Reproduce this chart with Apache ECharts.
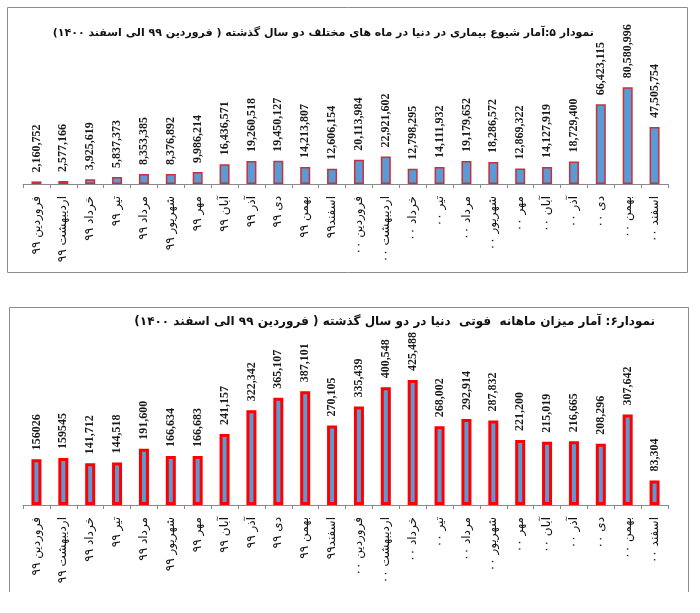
<!DOCTYPE html>
<html>
<head>
<meta charset="utf-8">
<script src="https://cdn.jsdelivr.net/npm/echarts@6/dist/echarts.min.js"></script>
<style>
html,body{margin:0;padding:0;background:#fff;}
#c{width:700px;height:613px;}
</style>
</head>
<body>
<div id="c"></div>
<script>
const categories = [
  "فروردین ۹۹","اردیبهشت ۹۹","خرداد ۹۹","تیر ۹۹","مرداد ۹۹","شهریور ۹۹","مهر ۹۹","آبان ۹۹","آذر ۹۹","دی ۹۹","بهمن ۹۹","اسفند۹۹",
  "فروردین ۰۰","اردیبهشت ۰۰","خرداد ۰۰","تیر ۰۰","مرداد ۰۰","شهریور ۰۰","مهر ۰۰","آبان ۰۰","آذر ۰۰","دی ۰۰","بهمن ۰۰","اسفند ۰۰"
];
const cases = [2160752,2577166,3925619,5837373,8353385,8376892,9986214,16436571,19260518,19450127,14213807,12606154,
  20113984,22921602,12798295,14111932,19179652,18286572,12869322,14127919,18729400,66423115,80580996,47505754];
const deaths = [156026,159545,141712,144518,191600,166634,166683,241157,322342,365107,387101,270105,
  335439,400548,425488,268002,292914,287832,221200,215019,216665,208296,307642,83304];
const deathLabels = ["156026","159545","141,712","144,518","191,600","166,634","166,683","241,157","322,342","365,107","387,101","270,105",
  "335,439","400,548","425,488","268,002","292,914","287,832","221,200","215,019","216,665","208,296","307,642","83,304"];
const title1 = "نمودار ۵:آمار شیوع بیماری در دنیا در ماه های مختلف دو سال گذشته ( فروردین ۹۹ الی اسفند ۱۴۰۰)";
const title2 = "نمودار۶: آمار میزان ماهانه  فوتی  دنیا در دو سال گذشته ( فروردین ۹۹ الی اسفند ۱۴۰۰)";

const RLE = "\u202B", PDF = "\u202C";
const chart = echarts.init(document.getElementById('c'), null, {renderer:'canvas'});
const xAxisCommon = {
  type:'category', data:categories.map(s=>RLE+s+PDF),
  axisLine:{lineStyle:{color:'#8a8a8a',width:1}},
  axisTick:{show:true,length:4,lineStyle:{color:'#8a8a8a'}},
  axisLabel:{rotate:90,interval:0,margin:12,fontSize:12,color:'#111',fontFamily:'DejaVu Sans'}
};
chart.setOption({
  animation:false,
  grid:[
    {left:23,right:32,top:64,bottom:429},
    {left:23,right:32,top:358,bottom:108}
  ],
  xAxis:[
    Object.assign({gridIndex:0},xAxisCommon),
    Object.assign({gridIndex:1},xAxisCommon)
  ],
  yAxis:[
    {gridIndex:0,type:'value',min:0,max:100000000,show:false,splitLine:{show:false}},
    {gridIndex:1,type:'value',min:0,max:500000,show:false,splitLine:{show:false}}
  ],
  series:[
    {type:'bar',xAxisIndex:0,yAxisIndex:0,data:cases,barWidth:10,
      itemStyle:{color:'#5b9bd5',borderColor:'#c8303c',borderWidth:1.5},
      label:{show:true,position:'top',rotate:90,align:'left',verticalAlign:'middle',distance:9,
        fontFamily:'Liberation Serif',fontWeight:'bold',fontSize:12,color:'#1a1a1a',
        formatter:p=>p.value.toLocaleString('en-US')}},
    {type:'bar',xAxisIndex:1,yAxisIndex:1,data:deaths,barWidth:10,
      itemStyle:{color:'#5b9bd5',borderColor:'#ff0000',borderWidth:3},
      label:{show:true,position:'top',rotate:90,align:'left',verticalAlign:'middle',distance:9,
        fontFamily:'Liberation Serif',fontWeight:'bold',fontSize:12,color:'#1a1a1a',
        formatter:p=>deathLabels[p.dataIndex]}}
  ],
  graphic:[
    {type:'rect',z:-1,shape:{x:7.5,y:7.5,width:680,height:265},style:{fill:'none',stroke:'#8c8c8c',lineWidth:1}},
    {type:'polyline',z:-1,shape:{points:[[9.5,592],[9.5,307.5],[688.5,307.5],[688.5,592]]},style:{fill:'none',stroke:'#8c8c8c',lineWidth:1}},
    {type:'text',x:594,y:33,style:{text:RLE+title1+PDF,textAlign:'right',textVerticalAlign:'middle',fontFamily:'DejaVu Sans',fontWeight:'bold',fontSize:11,fill:'#111'}},
    {type:'text',x:655,y:322,style:{text:RLE+title2+PDF,textAlign:'right',textVerticalAlign:'middle',fontFamily:'DejaVu Sans',fontWeight:'bold',fontSize:12,fill:'#111'}}
  ]
});
</script>
</body>
</html>
